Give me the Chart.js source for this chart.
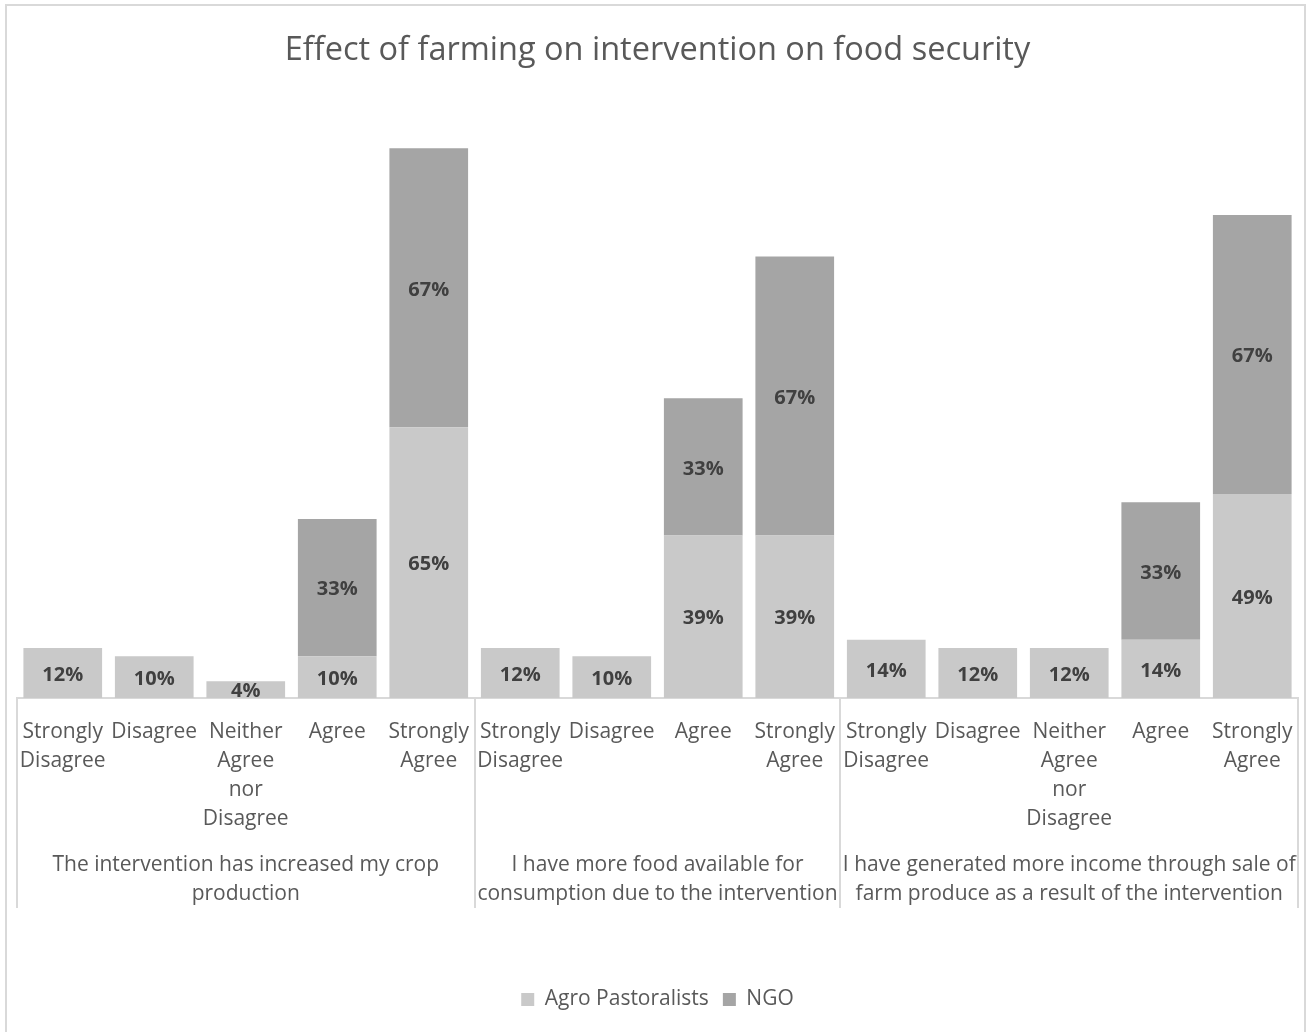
<!DOCTYPE html>
<html>
<head>
<meta charset="utf-8">
<title>Effect of farming on intervention on food security</title>
<script src="https://cdn.jsdelivr.net/npm/chart.js@4/dist/chart.umd.min.js"></script>
<style>
  html, body { margin: 0; padding: 0; background: #fff; }
  #wrap { position: relative; width: 1307px; height: 1032px; }
</style>
</head>
<body>
<div id="wrap"><canvas id="chart" width="1307" height="1032"></canvas></div>
<script>
const categories = [
  ['Strongly', 'Disagree'], 'Disagree', ['Neither', 'Agree', 'nor', 'Disagree'], 'Agree', ['Strongly', 'Agree'],
  ['Strongly', 'Disagree'], 'Disagree', 'Agree', ['Strongly', 'Agree'],
  ['Strongly', 'Disagree'], 'Disagree', ['Neither', 'Agree', 'nor', 'Disagree'], 'Agree', ['Strongly', 'Agree']
];
const agroPastoralists = [12, 10, 4, 10, 65, 12, 10, 39, 39, 14, 12, 12, 14, 49];
const ngo = [0, 0, 0, 33, 67, 0, 0, 33, 67, 0, 0, 0, 33, 67];
const groupLabels = [
  ['The intervention has increased my crop', 'production'],
  ['I have more food available for', 'consumption due to the intervention'],
  ['I have generated more income through sale of', 'farm produce as a result of the intervention']
];
const groupSizes = [5, 4, 5];

const FONT = '"Open Sans", Lato, sans-serif';
const TEXT = '#595959';
const LINE = '#d9d9d9';

// outer frame of the chart
const frame = {
  id: 'frame',
  beforeDraw(chart) {
    const ctx = chart.ctx;
    ctx.save();
    ctx.strokeStyle = LINE;
    ctx.lineWidth = 2;
    ctx.strokeRect(6, 5, 1299, 1040);
    ctx.restore();
  }
};

// percentage text in the middle of each segment
const valueLabels = {
  id: 'valueLabels',
  afterDatasetsDraw(chart) {
    const ctx = chart.ctx;
    ctx.save();
    ctx.font = 'bold 20px ' + FONT;
    ctx.fillStyle = '#404040';
    ctx.textAlign = 'center';
    ctx.textBaseline = 'middle';
    chart.data.datasets.forEach((ds, i) => {
      chart.getDatasetMeta(i).data.forEach((bar, j) => {
        const v = ds.data[j];
        if (!v) return;
        ctx.fillText(v + '%', bar.x, (bar.y + bar.base) / 2 + 2);
      });
    });
    ctx.restore();
  }
};

// group separators and group captions under the category labels
const groups = {
  id: 'groups',
  afterDraw(chart) {
    const x = chart.scales.x;
    const ctx = chart.ctx;
    const top = chart.chartArea.bottom;
    const half = (x.getPixelForValue(1) - x.getPixelForValue(0)) / 2;
    const edges = [x.getPixelForValue(0) - half];
    let n = 0;
    groupSizes.forEach(s => { n += s; edges.push(x.getPixelForValue(n - 1) + half); });

    ctx.save();
    ctx.strokeStyle = LINE;
    ctx.lineWidth = 2;
    edges.forEach(e => {
      ctx.beginPath();
      ctx.moveTo(Math.round(e), top);
      ctx.lineTo(Math.round(e), top + 210);
      ctx.stroke();
    });
    ctx.font = '21px ' + FONT;
    ctx.fillStyle = TEXT;
    ctx.textAlign = 'center';
    ctx.textBaseline = 'middle';
    groupLabels.forEach((lines, g) => {
      const cx = (edges[g] + edges[g + 1]) / 2;
      lines.forEach((t, k) => ctx.fillText(t, cx, top + 167 + k * 29));
    });
    ctx.restore();
  }
};

new Chart(document.getElementById('chart'), {
  type: 'bar',
  data: {
    labels: categories,
    datasets: [
      { label: 'Agro Pastoralists', data: agroPastoralists, backgroundColor: '#c9c9c9' },
      { label: 'NGO', data: ngo, backgroundColor: '#a5a5a5' }
    ]
  },
  options: {
    responsive: false,
    animation: false,
    layout: { padding: { left: 17, right: 9, top: 0, bottom: 12 } },
    datasets: { bar: { categoryPercentage: 1, barPercentage: 0.86 } },
    scales: {
      x: {
        stacked: true,
        grid: { display: false },
        border: { display: true, color: LINE, width: 2 },
        ticks: {
          autoSkip: false,
          maxRotation: 0,
          padding: 12,
          color: TEXT,
          font: { family: FONT, size: 21, lineHeight: 1.38 }
        },
        afterFit(scale) { scale.height = 277; }
      },
      y: {
        stacked: true,
        display: false,
        min: 0,
        max: 140
      }
    },
    plugins: {
      title: {
        display: true,
        text: 'Effect of farming on intervention on food security',
        color: TEXT,
        font: { family: FONT, size: 32.5, weight: 'normal', lineHeight: 1.2 },
        padding: { top: 31, bottom: 45 }
      },
      legend: {
        position: 'bottom',
        labels: {
          color: TEXT,
          boxWidth: 13,
          boxHeight: 13,
          padding: 14,
          font: { family: FONT, size: 21 }
        }
      },
      tooltip: { enabled: false }
    }
  },
  plugins: [frame, valueLabels, groups]
});
</script>
</body>
</html>
